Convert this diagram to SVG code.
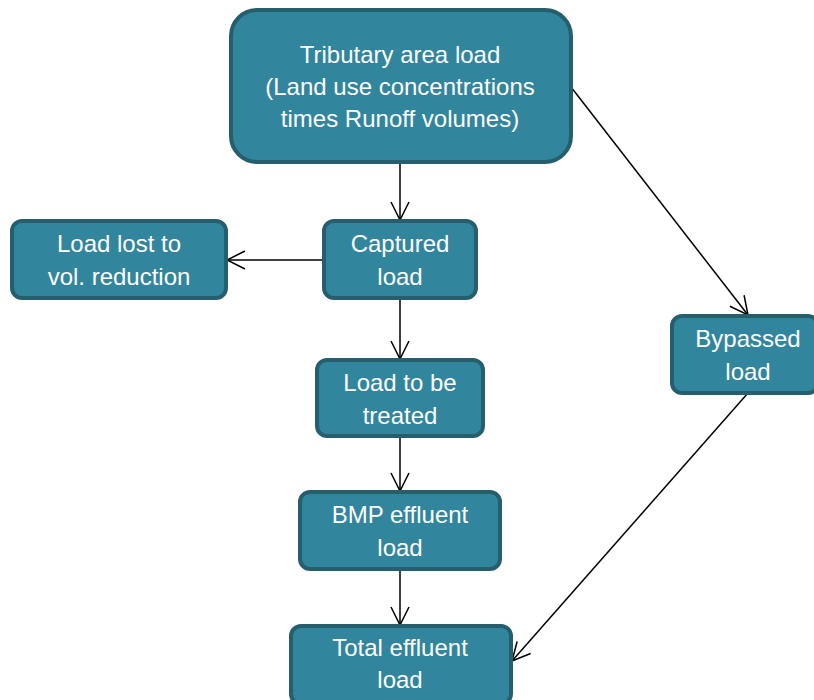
<svg xmlns="http://www.w3.org/2000/svg" width="814" height="700" viewBox="0 0 814 700">
<style>
.box{fill:#31859c;stroke:#255e6d;stroke-width:4}
.lbl{font-family:"Liberation Sans",Arial,sans-serif;font-size:24px;fill:#ffffff;text-anchor:middle}
.edge{stroke:#000;stroke-width:1.5;fill:none;marker-end:url(#arr)}
</style>
<defs>
<marker id="arr" viewBox="0 0 20 20" refX="19" refY="10" markerWidth="20" markerHeight="20" markerUnits="userSpaceOnUse" orient="auto">
<path d="M1,1 L19,10 L1,19" fill="none" stroke="#000" stroke-width="1.5"/>
</marker>
</defs>
<rect width="814" height="700" fill="#ffffff"/>
<g id="connectors">
<line class="edge" x1="400" y1="162" x2="400" y2="220"/>
<line class="edge" x1="324" y1="260" x2="227" y2="260"/>
<line class="edge" x1="400" y1="298" x2="400" y2="359"/>
<line class="edge" x1="400" y1="436" x2="400" y2="491"/>
<line class="edge" x1="400" y1="569" x2="400" y2="625"/>
<line class="edge" x1="571" y1="87" x2="748" y2="315"/>
<line class="edge" x1="748" y1="393" x2="512" y2="661"/>
</g>
<g id="tributary">
<rect class="box" x="231" y="10" width="340" height="152" rx="26"/>
<text class="lbl" x="400" y="63">Tributary area load</text>
<text class="lbl" x="400" y="95">(Land use concentrations</text>
<text class="lbl" x="400" y="127">times Runoff volumes)</text>
</g>
<g id="lost">
<rect class="box" x="12" y="221" width="214" height="77" rx="10"/>
<text class="lbl" x="119" y="252">Load lost to</text>
<text class="lbl" x="119" y="285">vol. reduction</text>
</g>
<g id="captured">
<rect class="box" x="324" y="221" width="152" height="77" rx="10"/>
<text class="lbl" x="400" y="252">Captured</text>
<text class="lbl" x="400" y="285">load</text>
</g>
<g id="treated">
<rect class="box" x="317" y="360" width="166" height="76" rx="10"/>
<text class="lbl" x="400" y="391">Load to be</text>
<text class="lbl" x="400" y="424">treated</text>
</g>
<g id="bypassed">
<rect class="box" x="672" y="316" width="146" height="77" rx="10"/>
<text class="lbl" x="748" y="347">Bypassed</text>
<text class="lbl" x="748" y="380">load</text>
</g>
<g id="bmp">
<rect class="box" x="300" y="492" width="200" height="77" rx="10"/>
<text class="lbl" x="400" y="523">BMP effluent</text>
<text class="lbl" x="400" y="556">load</text>
</g>
<g id="total">
<rect class="box" x="291" y="626" width="220" height="78" rx="10"/>
<text class="lbl" x="400" y="656">Total effluent</text>
<text class="lbl" x="400" y="688">load</text>
</g>
</svg>
